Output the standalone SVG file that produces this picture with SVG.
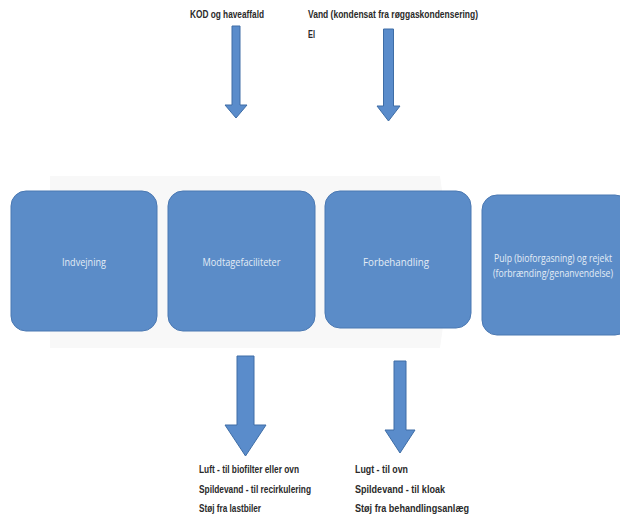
<svg xmlns="http://www.w3.org/2000/svg" width="620" height="526" viewBox="0 0 620 526">
<style>
.box{fill:#5b8cc8;stroke:#4a78b2;stroke-width:1}
.btxt{font-family:"Open Sans","Liberation Sans",sans-serif;font-size:10.5px;fill:#e4ecf6;text-anchor:middle}
.lbl{font-family:"Liberation Sans","DejaVu Sans",sans-serif;font-size:11px;fill:#2a2a2a;font-weight:bold}
.arr{fill:#5a8ccb;stroke:#3e6da6;stroke-width:1}
</style>
<rect width="620" height="526" fill="#ffffff"/>
<polygon points="50,176 440,176 452,262 440,348 50,348" fill="#f8f8f8"/>
<g id="connectors">
<polygon class="arr" points="232,26 240,26 240,105 247,105 236,118 225,105 232,105"/>
<polygon class="arr" points="383.5,29 393.5,29 393.5,106 400,106 388.5,121 377,106 383.5,106"/>
<polygon class="arr" points="237,356 254,356 254,425 266,425 245.5,456 225,425 237,425"/>
<polygon class="arr" points="394,361 406,361 406,430 415,430 400,453 385,430 394,430"/>
</g>
<g id="n1"><rect class="box" x="11" y="191" width="146" height="140" rx="15"/><text class="btxt" x="84" y="266" textLength="44" lengthAdjust="spacingAndGlyphs">Indvejning</text></g>
<g id="n2"><rect class="box" x="168" y="191" width="147" height="140" rx="15"/><text class="btxt" x="241.5" y="266" textLength="78" lengthAdjust="spacingAndGlyphs">Modtagefaciliteter</text></g>
<g id="n3"><rect class="box" x="325" y="191" width="146" height="137" rx="15"/><text class="btxt" x="396" y="266" textLength="66" lengthAdjust="spacingAndGlyphs">Forbehandling</text></g>
<g id="n4"><rect class="box" x="482" y="195" width="148" height="140" rx="15"/><text class="btxt" x="553" y="262" textLength="118" lengthAdjust="spacingAndGlyphs">Pulp (bioforgasning) og rejekt</text><text class="btxt" x="553" y="277" textLength="120" lengthAdjust="spacingAndGlyphs">(forbrænding/genanvendelse)</text></g>
<g id="inputs">
<text class="lbl" x="190" y="18" textLength="74" lengthAdjust="spacingAndGlyphs">KOD og haveaffald</text>
<text class="lbl" x="308" y="18" textLength="170" lengthAdjust="spacingAndGlyphs">Vand (kondensat fra røggaskondensering)</text>
<text class="lbl" x="308" y="38" textLength="7" lengthAdjust="spacingAndGlyphs">El</text>
</g>
<g id="outputs">
<text class="lbl" x="199" y="473" textLength="100" lengthAdjust="spacingAndGlyphs">Luft - til biofilter eller ovn</text>
<text class="lbl" x="199" y="493" textLength="112" lengthAdjust="spacingAndGlyphs">Spildevand - til recirkulering</text>
<text class="lbl" x="199" y="512" textLength="62" lengthAdjust="spacingAndGlyphs">Støj fra lastbiler</text>
<text class="lbl" x="355" y="473" textLength="53" lengthAdjust="spacingAndGlyphs">Lugt - til ovn</text>
<text class="lbl" x="355" y="493" textLength="90" lengthAdjust="spacingAndGlyphs">Spildevand - til kloak</text>
<text class="lbl" x="355" y="512" textLength="114" lengthAdjust="spacingAndGlyphs">Støj fra behandlingsanlæg</text>
</g>
</svg>
